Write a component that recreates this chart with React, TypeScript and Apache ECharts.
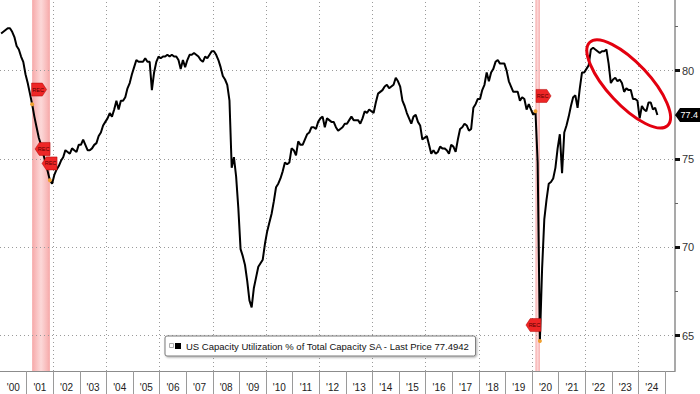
import React, { useEffect, useRef } from 'react';
import * as echarts from 'echarts';

// ---------- data (monthly, Jan 2000 – Sep 2024) ----------
const START_YEAR = 2000;
const cu2000 = [82.1, 82.2, 82.3, 82.4, 82.4, 82.2, 81.9, 81.4, 81.2, 80.8, 80.5, 79.8];
const cu2001 = [79.3, 78.7, 78.1, 77.4, 76.8, 76.2, 75.8, 75.3, 74.8, 74.3, 73.8, 73.6];
const cu2002 = [74.1, 74.4, 74.6, 74.9, 75.1, 75.5, 75.4, 75.3, 75.6, 75.5, 75.4, 75.8];
const cu2003 = [75.8, 76.1, 75.8, 75.5, 75.5, 75.6, 75.8, 75.9, 76.3, 76.5, 76.9, 77.1];
const cu2004 = [77.3, 77.6, 77.4, 77.8, 78.3, 77.8, 78.3, 78.3, 78.5, 79.0, 79.3, 79.8];
const cu2005 = [80.2, 80.6, 80.5, 80.5, 80.5, 80.7, 80.5, 80.5, 78.9, 79.9, 80.5, 80.8];
const cu2006 = [80.7, 80.8, 80.8, 80.9, 80.8, 80.9, 80.8, 80.8, 80.6, 80.1, 80.6, 80.2];
const cu2007 = [80.6, 80.9, 80.9, 81.0, 80.9, 80.8, 80.6, 80.5, 80.8, 80.7, 80.9, 81.1];
const cu2008 = [81.1, 80.9, 80.6, 80.2, 79.7, 79.5, 79.2, 78.3, 74.5, 75.1, 74.0, 72.2];
const cu2009 = [69.9, 69.5, 69.0, 68.1, 67.0, 66.6, 67.7, 68.3, 68.9, 69.1, 69.3, 70.2];
const cu2010 = [70.9, 71.4, 71.9, 72.6, 73.4, 73.6, 73.9, 74.3, 74.8, 74.7, 74.8, 75.6];
const cu2011 = [75.5, 75.2, 76.0, 75.8, 75.8, 76.1, 76.4, 76.5, 76.8, 76.8, 76.7, 77.1];
const cu2012 = [77.3, 77.4, 76.8, 77.3, 77.2, 77.1, 77.1, 76.8, 76.6, 76.7, 76.8, 77.0];
const cu2013 = [77.0, 77.2, 77.4, 77.2, 77.2, 77.2, 77.0, 77.3, 77.7, 77.6, 77.8, 77.7];
const cu2014 = [77.6, 78.2, 78.7, 78.8, 78.9, 79.1, 79.2, 79.0, 79.1, 79.2, 79.6, 79.4];
const cu2015 = [79.1, 78.3, 78.0, 77.6, 77.3, 77.0, 77.4, 77.5, 77.1, 76.9, 76.1, 76.2];
const cu2016 = [76.3, 75.8, 75.3, 75.5, 75.3, 75.4, 75.7, 75.6, 75.6, 75.5, 75.3, 75.8];
const cu2017 = [75.7, 75.4, 76.1, 76.7, 76.8, 77.0, 76.9, 76.6, 76.7, 77.9, 78.1, 78.4];
const cu2018 = [78.4, 78.9, 79.2, 79.9, 79.4, 79.9, 80.1, 80.5, 80.6, 80.4, 80.4, 80.4];
const cu2019 = [80.0, 79.4, 79.1, 78.8, 78.8, 78.8, 78.3, 78.5, 78.4, 77.8, 78.1, 77.8];
const cu2020 = [77.5, 77.7, 74.8, 64.7, 68.8, 71.6, 72.7, 73.6, 73.7, 73.9, 74.5, 75.6];
const cu2021 = [76.4, 74.2, 76.5, 76.9, 77.4, 78.0, 78.5, 78.6, 77.9, 79.0, 79.9, 79.9];
const cu2022 = [80.1, 80.3, 81.2, 81.3, 81.2, 81.1, 81.0, 81.1, 81.1, 81.2, 80.4, 79.3];
const cu2023 = [79.5, 79.6, 79.4, 79.5, 79.3, 78.8, 79.0, 78.9, 78.9, 78.4, 78.4, 78.3];
const cu2024 = [77.3, 78.0, 77.8, 77.7, 78.2, 78.2, 77.8, 77.9, 77.4942];

const capacityUtilization = [
  ...cu2000, ...cu2001, ...cu2002, ...cu2003, ...cu2004, ...cu2005, ...cu2006,
  ...cu2007, ...cu2008, ...cu2009, ...cu2010, ...cu2011, ...cu2012, ...cu2013,
  ...cu2014, ...cu2015, ...cu2016, ...cu2017, ...cu2018, ...cu2019, ...cu2020,
  ...cu2021, ...cu2022, ...cu2023, ...cu2024,
];

const SERIES_NAME = 'US Capacity Utilization % of Total Capacity SA';
const LAST_PRICE = 77.4942;

// x-axis tick labels (centred in each year)
const yearLabels = ["'00", "'01", "'02", "'03", "'04", "'05", "'06", "'07", "'08", "'09", "'10", "'11", "'12",
  "'13", "'14", "'15", "'16", "'17", "'18", "'19", "'20", "'21", "'22", "'23", "'24"];
const X_MAX = 2025.37;
// y-axis ticks
const yMajorTicks = [65, 70, 75, 80];
const yMinorTicks = [67.5, 72.5, 77.5, 82.5];
// recessions: [start year, start month], [end year, end month]
const recessions = [
  [[2001, 3], [2001, 11]],
  [[2020, 2], [2020, 4]],
];
// REC event flags: [decimal year, level, direction]
const recFlags: [number, number, string][] = [
  [2001.469, 78.93, 'right'],
  [2001.60, 75.57, 'left'],
  [2001.862, 74.75, 'left'],
  [2020.43, 78.57, 'right'],
  [2020.05, 65.6, 'left'],
];
// highlight ellipse centre (data units)
const highlightCentre = [2023.63, 79.25];

const monthX = (i: number) => START_YEAR + (i + 0.5) / 12;
const ymX = (y: number, m: number) => monthX((y - START_YEAR) * 12 + (m - 1));
const ymValue = (y: number, m: number) => capacityUtilization[(y - START_YEAR) * 12 + (m - 1)];

const FLAG_RIGHT = 'path://M0,0 L10,0 L14,5 L10,10 L0,10 Z';
const FLAG_LEFT = 'path://M4,0 L14,0 L14,10 L4,10 L0,5 Z';

export default function App() {
  const ref = useRef<HTMLDivElement>(null);
  useEffect(() => {
    if (!ref.current) return;
    const chart = echarts.init(ref.current, undefined, { renderer: 'svg' });
    const seriesData = capacityUtilization.map((v, i) => [monthX(i), v]);
    const tickYears = yearLabels.map((_, k) => START_YEAR + k + 1);
    const labelYears = yearLabels.map((_, k) => START_YEAR + k + 0.5);
    const gridYears = yearLabels.map((_, k) => START_YEAR + k).filter((y) => y > START_YEAR && y % 2 === 0);
    const font = "'Liberation Sans', Arial, sans-serif";

    const bandGradient = new echarts.graphic.LinearGradient(0, 0, 1, 0, [
      { offset: 0, color: 'rgba(242,130,130,0.7)' },
      { offset: 0.5, color: 'rgba(250,190,190,0.6)' },
      { offset: 1, color: 'rgba(242,130,130,0.7)' },
    ]);

    const option: any = {
      animation: false,
      backgroundColor: '#ffffff',
      grid: { left: -1.7, right: 25, top: 0, bottom: 23, containLabel: false },
      xAxis: [{
        type: 'value', min: START_YEAR, max: X_MAX,
        axisLine: { show: true, lineStyle: { color: '#8c8c8c', width: 1 } },
        axisTick: { show: true, customValues: tickYears, length: 23, inside: false, lineStyle: { color: '#9a9a9a', width: 1 } },
        axisLabel: {
          show: true, customValues: labelYears, margin: 11, color: '#222', fontSize: 10, fontFamily: font,
          formatter: (v: number) => yearLabels[Math.round(v - START_YEAR - 0.5)] ?? '',
        },
        splitLine: { show: false },
      }],
      yAxis: [{
        type: 'value', position: 'right', min: 63, max: 84,
        axisLine: { show: true, lineStyle: { color: '#8c8c8c', width: 1.5 } },
        axisTick: { show: true, customValues: yMajorTicks, length: 5, lineStyle: { color: '#111', width: 3 } },
        axisLabel: { show: true, customValues: yMajorTicks, margin: 7, color: '#333', fontSize: 11, fontFamily: font },
        splitLine: { show: false },
      }, {
        type: 'value', position: 'right', min: 63, max: 84,
        axisLine: { show: false },
        axisTick: { show: true, customValues: yMinorTicks, length: 3, lineStyle: { color: '#666', width: 1 } },
        axisLabel: { show: false },
        splitLine: { show: false },
      }],
      legend: {
        show: true, left: 165, top: 336, orient: 'horizontal',
        itemWidth: 6, itemHeight: 6, icon: 'rect',
        padding: [5, 6, 5, 10],
        backgroundColor: '#fff', borderColor: '#7a7a7a', borderWidth: 1, borderRadius: 2,
        shadowColor: 'rgba(0,0,0,0.35)', shadowBlur: 2, shadowOffsetX: 1, shadowOffsetY: 1,
        textStyle: { fontSize: 9.5, color: '#111', fontFamily: font },
        formatter: (name: string) => `${name} - Last Price ${LAST_PRICE}`,
        data: [{ name: SERIES_NAME, itemStyle: { color: '#000' } }],
      },
      series: [
        {
          name: 'guides', type: 'line', data: [], z: 1, silent: true,
          markArea: {
            silent: true, z: 1,
            itemStyle: { color: bandGradient },
            data: recessions.map(([s, e]) => [{ xAxis: ymX(s[0], s[1]) }, { xAxis: ymX(e[0], e[1]) }]),
          },
          markLine: {
            silent: true, z: 1, symbol: 'none', label: { show: false },
            lineStyle: { color: '#9a9a9a', type: [1, 3], width: 1 },
            data: [
              ...yMajorTicks.map((v) => ({ yAxis: v })),
              ...gridYears.map((y) => ({ xAxis: y })),
            ],
          },
        },
        {
          name: SERIES_NAME, type: 'line', data: seriesData, z: 3,
          showSymbol: false, symbol: 'none',
          lineStyle: { color: '#000', width: 2 },
          itemStyle: { color: '#000' },
          markPoint: {
            z: 5, silent: true,
            data: [
              ...recessions.flatMap(([s, e]) => [s, e]).map(([y, m]) => ({
                coord: [ymX(y, m), ymValue(y, m)], symbol: 'circle', symbolSize: 4,
                itemStyle: { color: '#f0a030' }, label: { show: false },
              })),
              ...recFlags.map(([x, v, dir]) => ({
                coord: [x, v], symbol: dir === 'right' ? FLAG_RIGHT : FLAG_LEFT, symbolSize: [15, 13],
                itemStyle: { color: '#ee2626', borderColor: '#b00000', borderWidth: 0.5 },
                label: {
                  show: true, formatter: 'REC', fontSize: 5.5, color: '#5a0000', fontFamily: font,
                  position: 'inside', offset: [dir === 'right' ? -1 : 1, 0],
                },
              })),
            ],
          },
        },
      ],
    };
    chart.setOption(option);

    const [ex, ey] = chart.convertToPixel({ seriesIndex: 1 }, highlightCentre) as number[];
    const [, py] = chart.convertToPixel({ seriesIndex: 1 }, [X_MAX, LAST_PRICE]) as number[];
    chart.setOption({
      graphic: [
        {
          type: 'ellipse', x: ex, y: ey, rotation: -0.82, z: 20, silent: true,
          shape: { cx: 0, cy: 0, rx: 57, ry: 21 },
          style: { fill: 'transparent', stroke: '#e3000f', lineWidth: 3 },
        },
        {
          type: 'polygon', z: 20, silent: true,
          shape: { points: [[675, py], [680, py - 7], [702, py - 7], [702, py + 7], [680, py + 7]] },
          style: { fill: '#000' },
        },
        {
          type: 'text', x: 680.5, y: py, z: 21, silent: true,
          style: {
            text: String(LAST_PRICE), fill: '#fff', fontSize: 9, fontFamily: font,
            verticalAlign: 'middle', align: 'left', width: 19.5, overflow: 'truncate', ellipsis: '',
          },
        },
        {
          type: 'rect', x: 169.5, y: 343.5, z: 30, silent: true,
          shape: { width: 4, height: 4 },
          style: { fill: '#fff', stroke: '#999', lineWidth: 0.8 },
        },
      ],
    });
    return () => chart.dispose();
  }, []);
  return <div ref={ref} style={{ position: 'absolute', left: 0, top: 0, width: 700, height: 394 }} />;
}
